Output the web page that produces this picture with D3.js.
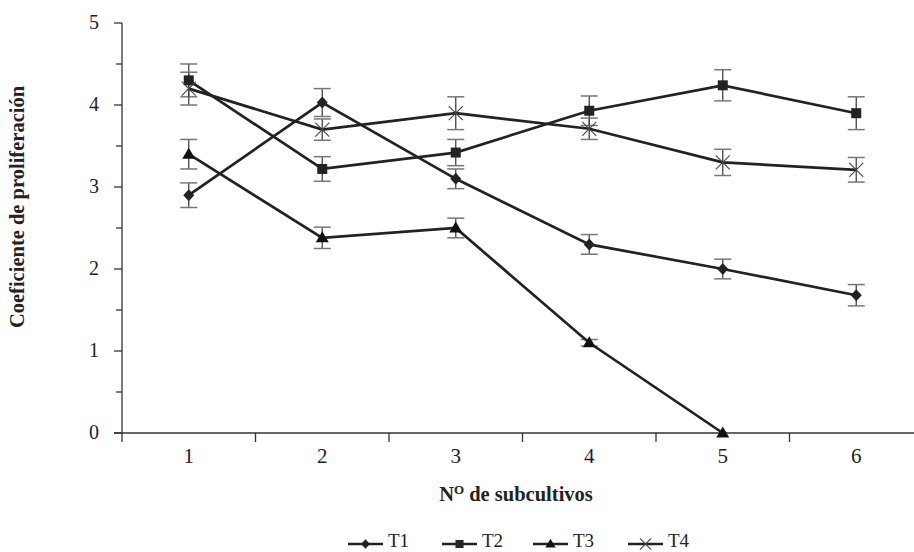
<!DOCTYPE html>
<html><head><meta charset="utf-8">
<script src="https://cdn.jsdelivr.net/npm/d3@7"></script>
<style>body{margin:0;background:#fff}svg{display:block}text{font-family:"Liberation Serif","Times New Roman",serif;fill:#222}</style>
</head><body><svg id="c" width="914" height="552"></svg>
<script>
const categories = ["1","2","3","4","5","6"];
const seriesNames = ["T1","T2","T3","T4"];
const T1 = [2.9, 4.03, 3.1, 2.3, 2.0, 1.68];
const T2 = [4.3, 3.22, 3.42, 3.93, 4.24, 3.9];
const T3 = [3.4, 2.38, 2.5, 1.1, 0.0, null];
const T4 = [4.2, 3.7, 3.9, 3.71, 3.3, 3.21];
const errT1 = [0.15, 0.17, 0.12, 0.12, 0.12, 0.13];
const errT2 = [0.2, 0.15, 0.16, 0.18, 0.19, 0.2];
const errT3 = [0.18, 0.13, 0.12, 0.04, 0, null];
const errT4 = [0.2, 0.13, 0.2, 0.13, 0.16, 0.15];
const yTicks = [0,0.5,1,1.5,2,2.5,3,3.5,4,4.5,5];
const yLabels = ["0","1","2","3","4","5"];

const series = [
  {name:"T1", vals:T1, err:errT1, sym:"diamond"},
  {name:"T2", vals:T2, err:errT2, sym:"square"},
  {name:"T3", vals:T3, err:errT3, sym:"triangle"},
  {name:"T4", vals:T4, err:errT4, sym:"cross"}
];

const svg = d3.select("#c");
const x = d3.scaleBand().domain(categories).range([122, 923]);
const y = d3.scaleLinear().domain([0,5]).range([433, 23]);
const xc = c => x(c) + x.bandwidth()/2;

// axes
const ax = svg.append("g").attr("stroke","#333").attr("stroke-width",1.3);
ax.append("line").attr("x1",x.range()[0]).attr("x2",x.range()[0]).attr("y1",y(5)).attr("y2",y(0)+9);
ax.append("line").attr("x1",x.range()[0]-8).attr("x2",x.range()[1]).attr("y1",y(0)).attr("y2",y(0));
yTicks.forEach(t=>ax.append("line").attr("x1",x.range()[0]-(t%1===0?8:6)).attr("x2",x.range()[0]).attr("y1",y(t)).attr("y2",y(t)));
categories.forEach(c=>ax.append("line").attr("x1",x(c)+x.bandwidth()).attr("x2",x(c)+x.bandwidth()).attr("y1",y(0)).attr("y2",y(0)+9));

yLabels.forEach(l=>svg.append("text").attr("x",99).attr("y",y(+l)).attr("dy","0.3em")
  .attr("text-anchor","end").attr("font-size",20).text(l));
categories.forEach(c=>svg.append("text").attr("x",xc(c)).attr("y",463).attr("text-anchor","middle")
  .attr("font-size",21).text(c));

svg.append("text").attr("transform","translate(24,207) rotate(-90)")
  .attr("text-anchor","middle").attr("font-size",20.5).attr("font-weight","bold").text("Coeficiente de proliferación");
const xt = svg.append("text").attr("x",516).attr("y",501).attr("text-anchor","middle").attr("font-size",20.5).attr("font-weight","bold");
xt.append("tspan").text("N");
xt.append("tspan").attr("font-size",13).attr("dy",-7).text("O");
xt.append("tspan").attr("dy",7).text(" de subcultivos");

function marker(g, sym, cx, cy, k){
  k = k||1;
  if(sym==="diamond") g.append("path").attr("d",`M${cx},${cy-6*k}L${cx+5.5*k},${cy}L${cx},${cy+6*k}L${cx-5.5*k},${cy}Z`).attr("fill","#222");
  else if(sym==="square") g.append("rect").attr("x",cx-5*k).attr("y",cy-5*k).attr("width",10*k).attr("height",10*k).attr("fill","#222");
  else if(sym==="triangle") g.append("path").attr("d",`M${cx},${cy-6.5*k}L${cx+6.5*k},${cy+4.5*k}L${cx-6.5*k},${cy+4.5*k}Z`).attr("fill","#111");
  else { const r=7*k; g.append("path").attr("d",`M${cx-r},${cy-r}L${cx+r},${cy+r}M${cx-r},${cy+r}L${cx+r},${cy-r}`).attr("stroke","#444").attr("stroke-width",1.1).attr("fill","none"); }
}

// error bars
series.forEach(s=>{
  const g = svg.append("g");
  categories.forEach((c,i)=>{
    const v=s.vals[i], e=s.err[i];
    if(v==null||!e) return;
    const cx=xc(c);
    g.append("line").attr("x1",cx).attr("x2",cx).attr("y1",y(v+e)).attr("y2",y(v-e)).attr("stroke","#444").attr("stroke-width",1.3);
    [v+e,v-e].forEach(t=>g.append("line").attr("x1",cx-8.5).attr("x2",cx+8.5).attr("y1",y(t)).attr("y2",y(t)).attr("stroke","#777").attr("stroke-width",1.5));
  });
});
// lines
const line = d3.line().defined(d=>d.v!=null).x(d=>xc(d.c)).y(d=>y(d.v));
series.forEach(s=>{
  svg.append("path").datum(categories.map((c,i)=>({c,v:s.vals[i]})))
    .attr("d",line).attr("fill","none").attr("stroke","#222").attr("stroke-width",2.7);
});
series.forEach(s=>{
  const g=svg.append("g");
  categories.forEach((c,i)=>{ if(s.vals[i]!=null) marker(g,s.sym,xc(c),y(s.vals[i]),1); });
});

// legend
const legX = [348, 442, 533, 628];
series.forEach((s,i)=>{
  const g=svg.append("g");
  const ly=544;
  g.append("line").attr("x1",legX[i]).attr("x2",legX[i]+35).attr("y1",ly).attr("y2",ly).attr("stroke","#222").attr("stroke-width",2.4);
  marker(g,s.sym,legX[i]+17.5,ly,0.8);
  g.append("text").attr("x",legX[i]+40).attr("y",547).attr("font-size",19).text(s.name);
});
</script></body></html>
